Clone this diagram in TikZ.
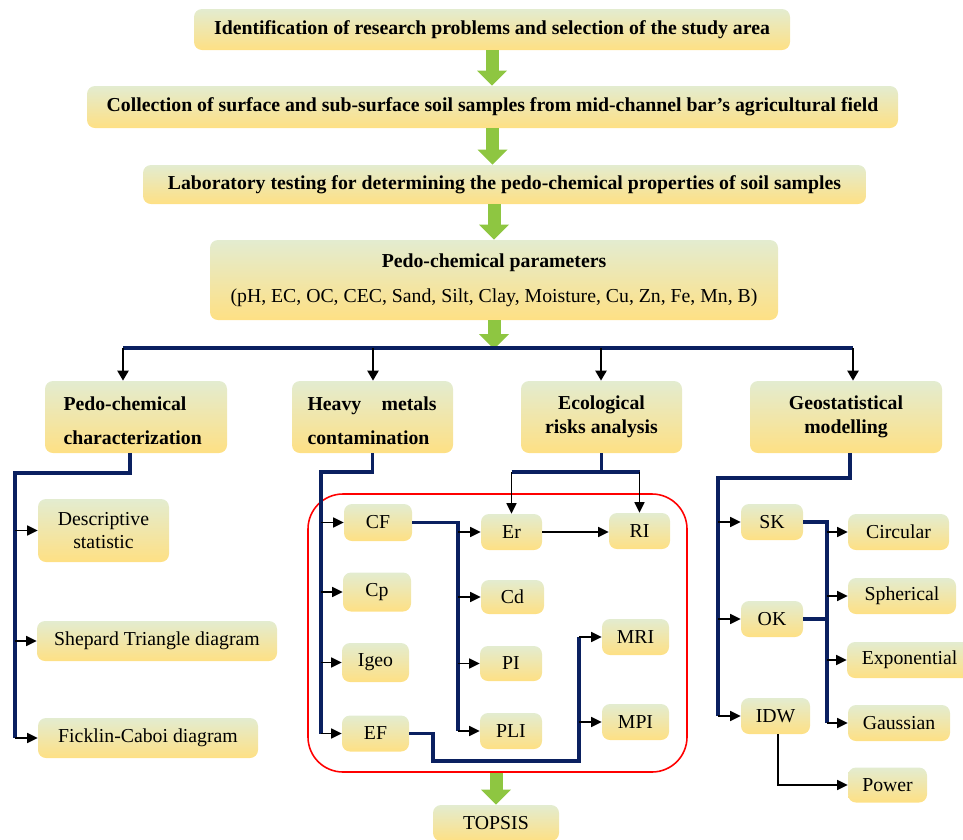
\documentclass[tikz,border=0pt]{standalone}
\usepackage{fontspec}
\setmainfont{Liberation Serif}
\usetikzlibrary{positioning, arrows.meta}

\definecolor{boxtop}{RGB}{227,236,208}
\definecolor{boxbot}{RGB}{254,224,132}
\definecolor{flownavy}{RGB}{10,32,96}
\definecolor{flowgreen}{RGB}{142,198,65}

\newcommand{\boxfont}{\fontsize{11.25}{13.5}\selectfont}

\tikzset{
  boxsize/.style 2 args={minimum width=#1*0.02cm, minimum height=#2*0.02cm},
  stepbox/.style={rounded corners=0.16cm, top color=boxtop, bottom color=boxbot,
    inner sep=2pt, align=center, font=\boxfont},
  headbox/.style={stepbox, font=\boxfont\bfseries},
  greenarrow/.style={draw=flowgreen, line width=0.26cm,
    -{Triangle[width=0.6cm, length=0.3cm, line width=0pt]}},
  navyline/.style={draw=flownavy, line width=1.8pt},
  downarrow/.style={draw=black, line width=1.3pt, -{Triangle[width=0.22cm, length=0.2cm]}},
  thinarrow/.style={draw=black, line width=0.85pt, -{Triangle[width=0.2cm, length=0.21cm]}},
  riskframe/.style={draw=red, line width=0.9pt, rounded corners=0.7cm},
}

\begin{document}
\begin{tikzpicture}[x=0.02cm, y=-0.02cm]

\useasboundingbox (0,0) rectangle (963,839);

% ---------- MAIN STEPS ----------

\node[headbox, boxsize={596}{41}] (ident) at (492,29.5) {Identification of research problems and selection of the study area};
\node[headbox, boxsize={811}{42}] (collect) at (492.5,107) {Collection of surface and sub-surface soil samples from mid-channel bar’s agricultural field};
\node[headbox, boxsize={723}{39}] (labtest) at (504.5,184.5) {Laboratory testing for determining the pedo-chemical properties of soil samples};
\node[stepbox, boxsize={568}{80}] (params) at (494,280) {\textbf{Pedo-chemical parameters}\\[6.3pt](pH, EC, OC, CEC, Sand, Silt, Clay, Moisture, Cu, Zn, Fe, Mn, B)};

\coordinate (split) at (494,349);

\draw[greenarrow] (ident.south) -- (ident.south |- collect.north);
\draw[greenarrow] (collect.south) -- (collect.south |- labtest.north);
\draw[greenarrow] (labtest.south -| params.north) -- (params.north);
\draw[greenarrow] (params.south) -- (split);

% ---------- CATEGORIES ----------

\node[headbox, boxsize={182}{72}, text width=2.9cm, align=left] (cat1) at (136,417) {\rule{0pt}{12pt}Pedo-chemical\\[5.8pt]characterization};
\node[headbox, boxsize={161}{72}, text width=2.6cm, align=left] (cat2) at (372.5,417) {\rule{0pt}{12pt}\makebox[2.58cm]{Heavy\hfill metals}\\[5.8pt]contamination};
\node[headbox, boxsize={161}{72}] (cat3) at (601.5,417) {Ecological\\risks analysis};
\node[headbox, boxsize={192}{72}] (cat4) at (846,417) {Geostatistical\\modelling};

\coordinate (d1) at (123,348);
\coordinate (d2) at (373,348);
\coordinate (d3) at (601,348);
\coordinate (d4) at (853,348);

\draw[navyline] (d1) -- (d4);
\draw[downarrow] (d1) -- (d1 |- cat1.north);
\draw[downarrow] (d2) -- (d2 |- cat2.north);
\draw[downarrow] (d3) -- (d3 |- cat3.north);
\draw[downarrow] (d4) -- (d4 |- cat4.north);

% ---------- PEDO-CHEMICAL CHARACTERIZATION ----------

\node[stepbox, boxsize={131}{63}] (desc) at (103.5,530.5) {Descriptive\\statistic};
\node[stepbox, boxsize={240}{40}] (shep) at (157,641) {Shepard Triangle diagram};
\node[stepbox, boxsize={220}{40}] (fick) at (148,738) {Ficklin-Caboi diagram};

\coordinate (pcbus) at (15,473);
\draw[navyline] ([xshift=-0.12cm]cat1.south) |- (pcbus) -- (pcbus |- fick.west);
\draw[thinarrow] (pcbus |- desc.west) -- (desc.west);
\draw[thinarrow] (pcbus |- shep.west) -- (shep.west);
\draw[thinarrow] (pcbus |- fick.west) -- (fick.west);

% ---------- HEAVY METALS / ECOLOGICAL RISKS ----------

\node[riskframe, boxsize={379}{278}] (hmframe) at (497.5,633) {};

\node[stepbox, boxsize={68}{37}] (cf) at (378,522.5) {CF};
\node[stepbox, boxsize={68}{39}] (cp) at (377,592) {Cp};
\node[stepbox, boxsize={67}{39}] (igeo) at (375.5,662.5) {Igeo};
\node[stepbox, boxsize={67}{36}] (ef) at (375.5,733.5) {EF};

\node[stepbox, boxsize={61}{36}] (er) at (511.5,532) {Er};
\node[stepbox, boxsize={61}{36}] (ri) at (639.5,531) {RI};
\node[stepbox, boxsize={63}{34}] (cd) at (512.5,597) {Cd};
\node[stepbox, boxsize={62}{35}] (pi) at (511,663.5) {PI};
\node[stepbox, boxsize={62}{36}] (pli) at (511,731) {PLI};
\node[stepbox, boxsize={67}{36}] (mri) at (635.5,637) {MRI};
\node[stepbox, boxsize={67}{36}] (mpi) at (635.5,722) {MPI};

\node[stepbox, boxsize={126}{36}] (topsis) at (496,823) {TOPSIS};

\coordinate (hmbus) at (321,472);
\draw[navyline] (cat2.south) |- (hmbus) -- (hmbus |- ef.west);
\draw[thinarrow] (hmbus |- cf.west) -- (cf.west);
\draw[thinarrow] (hmbus |- cp.west) -- (cp.west);
\draw[thinarrow] (hmbus |- igeo.west) -- (igeo.west);
\draw[thinarrow] (hmbus |- ef.west) -- (ef.west);

\coordinate (cfbus) at (458,522);
\draw[navyline] (cf.east) -- (cf.east -| cfbus) -- (cfbus |- pli.west);
\draw[thinarrow] (cfbus |- er.west) -- (er.west);
\draw[thinarrow] (cfbus |- cd.west) -- (cd.west);
\draw[thinarrow] (cfbus |- pi.west) -- (pi.west);
\draw[thinarrow] (cfbus |- pli.west) -- (pli.west);

\coordinate (efturn) at (433,761);
\coordinate (mbus) at (579,761);
\draw[navyline] (ef.east) -| (efturn) -- (mbus) -- (mbus |- mri.west);
\draw[thinarrow] (mbus |- mri.west) -- (mri.west);
\draw[thinarrow] (mbus |- mpi.west) -- (mpi.west);

\coordinate (erbus) at (601,472);
\draw[navyline] (cat3.south) -- (cat3.south |- erbus);
\draw[navyline] (er.north |- erbus) -- (ri.north |- erbus);
\draw[thinarrow] (er.north |- erbus) -- (er.north);
\draw[thinarrow] (ri.north |- erbus) -- (ri.north);
\draw[thinarrow] (er.east) -- (er.east -| ri.west);

\draw[greenarrow] (topsis.north |- hmframe.south) -- (topsis.north);

% ---------- GEOSTATISTICAL MODELLING ----------

\node[stepbox, boxsize={62}{36}] (sk) at (772,522) {SK};
\node[stepbox, boxsize={62}{36}] (ok) at (772,619) {OK};
\node[stepbox, boxsize={69}{36}] (idw) at (775.5,716) {IDW};

\node[stepbox, boxsize={101}{36}] (circ) at (898.5,532) {Circular};
\node[stepbox, boxsize={108}{36}] (spher) at (902,596) {Spherical};
\node[stepbox, boxsize={125}{36}] (expo) at (909.5,660) {Exponential};
\node[stepbox, boxsize={102}{36}] (gauss) at (899,723) {Gaussian};
\node[stepbox, boxsize={79}{35}] (power) at (887.5,785) {Power};

\coordinate (gmbus) at (718,478);
\draw[navyline] ([xshift=0.08cm]cat4.south) |- (gmbus) -- (gmbus |- idw.west);
\draw[thinarrow] (gmbus |- sk.west) -- (sk.west);
\draw[thinarrow] (gmbus |- ok.west) -- (ok.west);
\draw[thinarrow] (gmbus |- idw.west) -- (idw.west);

\coordinate (krbus) at (827,522);
\draw[navyline] (sk.east) -- (sk.east -| krbus) -- (krbus |- gauss.west);
\draw[navyline] (ok.east) -- (ok.east -| krbus);
\draw[thinarrow] (krbus |- circ.west) -- (circ.west);
\draw[thinarrow] (krbus |- spher.west) -- (spher.west);
\draw[thinarrow] (krbus |- expo.west) -- (expo.west);
\draw[thinarrow] (krbus |- gauss.west) -- (gauss.west);

\draw[thinarrow] ([xshift=0.05cm]idw.south) |- (power.west);

\end{tikzpicture}
\end{document}
